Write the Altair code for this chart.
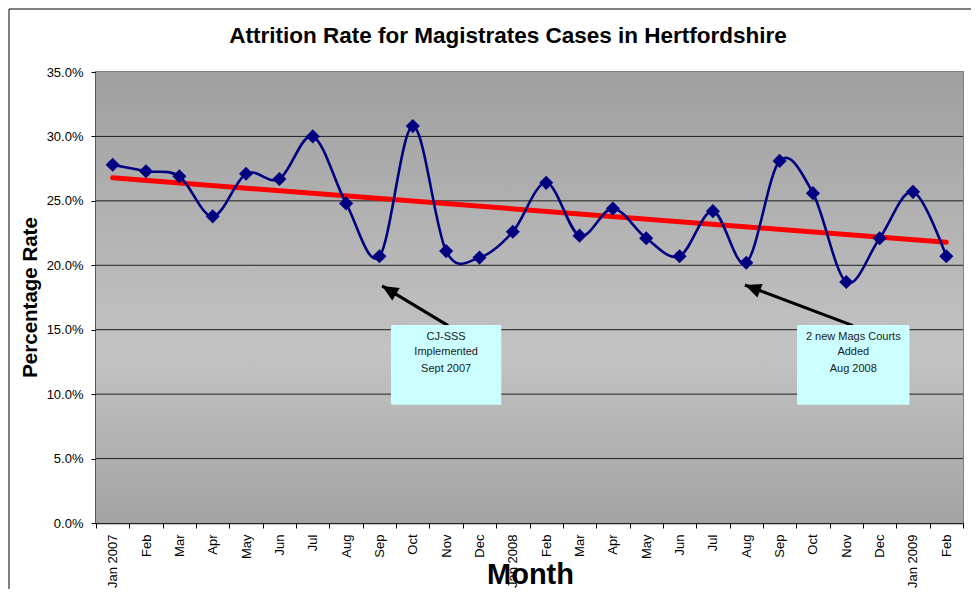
import json
import altair as alt
import pandas as pd

# ---- data ----
months = ["Jan 2007", "Feb", "Mar", "Apr", "May", "Jun", "Jul", "Aug", "Sep", "Oct", "Nov", "Dec",
          "Jan 2008", "Feb", "Mar", "Apr", "May", "Jun", "Jul", "Aug", "Sep", "Oct", "Nov", "Dec",
          "Jan 2009", "Feb"]
rates = [27.8, 27.3, 26.9, 23.8, 27.1, 26.7, 30.0, 24.8, 20.7, 30.8, 21.1, 20.6,
         22.6, 26.4, 22.3, 24.4, 22.1, 20.7, 24.2, 20.2, 28.1, 25.6, 18.7, 22.1,
         25.7, 20.7]
y_ticks = [0, 5, 10, 15, 20, 25, 30, 35]
grid_values = [5, 10, 15, 20, 25, 30]
title_text = "Attrition Rate for Magistrates Cases in Hertfordshire"

# annotations (data coordinates: x = month index, y = percent)
note_lines = [["CJ-SSS", "Implemented", "Sept 2007"],
              ["2 new Mags Courts", "Added", "Aug 2008"]]
note_line_y = [14.47, 13.28, 11.96]
box_x = [8.36, 20.54]
box_x2 = [11.64, 23.88]
box_y = [15.32, 15.32]
box_y2 = [9.22, 9.22]
arrow_tail_x = [10.06, 22.20]
arrow_tail_y = [15.32, 15.32]
arrow_tip_x = [8.08, 18.96]
arrow_tip_y = [18.40, 18.47]
arrow_angle = [301, 291]

FONT = "Liberation Sans"
W, H = 867, 451
n = len(months)

df = pd.DataFrame({"idx": list(range(n)), "month": months, "rate": rates})
grid_df = pd.DataFrame({"rate": grid_values})
box_df = pd.DataFrame({"idx": box_x, "x2": box_x2, "rate": box_y, "y2": box_y2})
text_rows = []
for b, lines in enumerate(note_lines):
    for k, t in enumerate(lines):
        text_rows.append({"idx": (box_x[b] + box_x2[b]) / 2, "rate": note_line_y[k], "text": t})
text_df = pd.DataFrame(text_rows)
arrow_df = pd.DataFrame({"idx": arrow_tail_x, "rate": arrow_tail_y,
                         "x2": arrow_tip_x, "y2": arrow_tip_y, "angle": arrow_angle})
head_df = pd.DataFrame({"idx": arrow_tip_x, "rate": arrow_tip_y, "angle": arrow_angle})

xscale = alt.Scale(domain=[-0.5, n - 0.5], nice=False, zero=False)
yscale = alt.Scale(domain=[0, 35], nice=False, zero=False)

label_js = json.dumps(months)
x_axis = alt.Axis(
    values=[i - 0.5 for i in range(n + 1)],
    labelExpr=f"datum.value + 0.5 < {n} ? {label_js}[round(datum.value + 0.5)] : ''",
    labelAngle=270, labelAlign="right", labelBaseline="middle",
    labelOffset=W / n / 2, labelPadding=6, labelFontSize=13, labelFont=FONT,
    labelColor="black", labelOverlap=False, labelFlush=False, labelBound=False,
    tickSize=5, tickColor="black", domainColor="#222", domainWidth=1.5, grid=False,
    title="Month", titleFont=FONT, titleFontSize=29, titleFontWeight="bold",
    titleColor="black", titleX=434, titleY=60, titleAlign="center",
    titleBaseline="alphabetic", titleAnchor="middle",
)
y_axis = alt.Axis(
    values=y_ticks,
    labelExpr="format(datum.value, '.1f') + '%'",
    labelFontSize=13, labelFont=FONT, labelColor="black", labelPadding=8,
    tickSize=5, tickColor="black", domainColor="#333", domainWidth=2, grid=False,
    title="Percentage Rate", titleFont=FONT, titleFontSize=20.5, titleFontWeight="bold",
    titleColor="black", titleAngle=270, titleX=-59.5, titleY=225, titleAlign="center",
    titleBaseline="alphabetic",
)


def X(field="idx"):
    return alt.X(f"{field}:Q", scale=xscale, axis=x_axis)


def Y(field="rate"):
    return alt.Y(f"{field}:Q", scale=yscale, axis=y_axis)


one = alt.Data(values=[{}])

frame = alt.Chart(one).mark_rect(fillOpacity=0, stroke="black", strokeWidth=1).encode(
    x=alt.value(-87), x2=alt.value(1200), y=alt.value(-63), y2=alt.value(900))

background = alt.Chart(one).mark_rect(
    fill={"gradient": "linear", "x1": 0, "y1": 0, "x2": 0, "y2": 1,
          "stops": [{"offset": 0, "color": "#9f9f9f"},
                    {"offset": 0.62, "color": "#c3c3c3"},
                    {"offset": 1, "color": "#a3a3a3"}]}
).encode(x=alt.value(0), x2=alt.value(W), y=alt.value(0), y2=alt.value(H))

title = alt.Chart(alt.Data(values=[{"t": title_text}])).mark_text(
    font=FONT, fontSize=22.5, fontWeight="bold", color="black",
    align="center", baseline="alphabetic").encode(
    x=alt.value(412), y=alt.value(-29), text="t:N")

grid = alt.Chart(grid_df).mark_rule(color="#1e1e1e", strokeWidth=1).encode(y=Y())

trend = alt.Chart(df).transform_regression("idx", "rate").mark_line(
    color="#ff0000", strokeWidth=5, strokeCap="round").encode(x=X(), y=Y())

line = alt.Chart(df).mark_line(color="#000080", strokeWidth=2.6,
                               interpolate="cardinal").encode(x=X(), y=Y())

points = alt.Chart(df).mark_point(shape="diamond", filled=True, color="#000080",
                                  size=200, opacity=1).encode(x=X(), y=Y())

arrow_lines = alt.Chart(arrow_df).mark_rule(color="black", strokeWidth=3).encode(
    x=X(), x2="x2:Q", y=Y(), y2="y2:Q")

arrow_heads = alt.Chart(head_df).mark_point(
    shape="M0,0L-0.8,1.8L0.8,1.8Z", filled=True, color="black", size=324, opacity=1
).encode(x=X(), y=Y(), angle=alt.Angle("angle:Q", scale=None))

boxes = alt.Chart(box_df).mark_rect(fill="#ccffff", stroke="#ccffff").encode(
    x=X(), x2="x2:Q", y=Y(), y2="y2:Q")

box_text = alt.Chart(text_df).mark_text(
    font=FONT, fontSize=11, color="#1a1a1a", align="center", baseline="middle"
).encode(x=X(), y=Y(), text="text:N")

chart = alt.layer(
    frame, background, title, grid, trend, line, points, arrow_lines, arrow_heads,
    boxes, box_text
).properties(
    width=W, height=H,
    padding={"left": 88, "top": 64, "right": 8, "bottom": 66},
    autosize=alt.AutoSizeParams(type="none"),
    background="white",
).configure_view(stroke="#808080", strokeWidth=2)

chart.save("out.html", embed_options={"renderer": "svg", "actions": False})
